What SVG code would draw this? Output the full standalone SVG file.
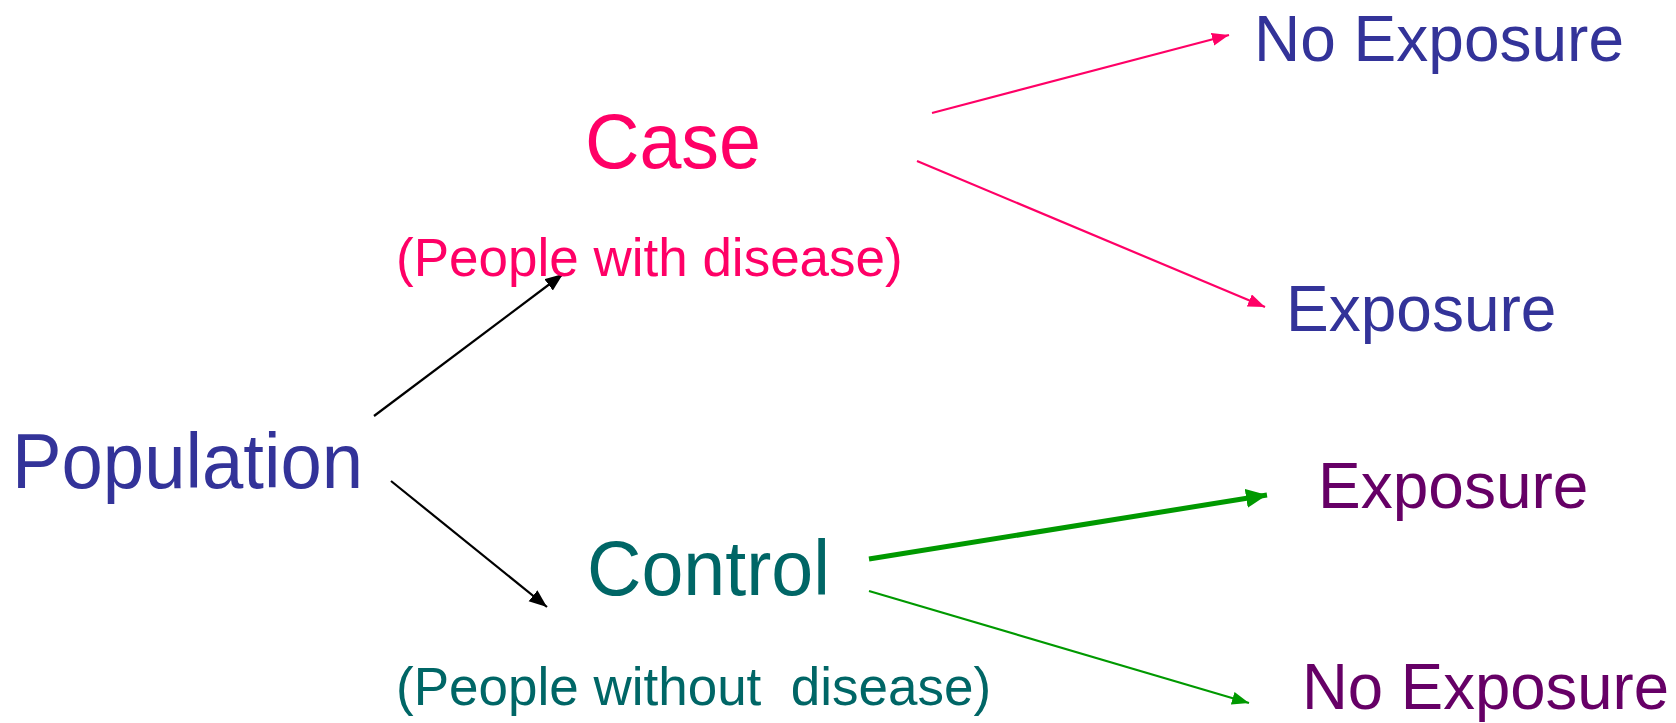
<svg xmlns="http://www.w3.org/2000/svg" width="1676" height="723" viewBox="0 0 1676 723">
  <style>
    text { font-family: "Liberation Sans", Arial, sans-serif; }
    .big { font-size: 77px; }
    .sub { font-size: 53px; }
    .out { font-size: 64px; }
    .blue { fill: #333399; }
    .pink { fill: #FF0066; }
    .teal { fill: #006666; }
    .purple { fill: #660066; }
    .conn { fill: none; stroke-linecap: butt; }
    .k { stroke: #000000; stroke-width: 2.2; }
    .p { stroke: #FF0066; stroke-width: 2.2; }
    .g { stroke: #009900; stroke-width: 2.2; }
    .gt { stroke: #009900; stroke-width: 5; }
  </style>
  <defs>
    <marker id="ah-black" markerUnits="userSpaceOnUse" markerWidth="19" markerHeight="15" refX="18" refY="7" orient="auto">
      <path d="M0,0 L18,7 L0,14 z" fill="#000000"/>
    </marker>
    <marker id="ah-pink" markerUnits="userSpaceOnUse" markerWidth="18" markerHeight="14" refX="17" refY="6.5" orient="auto">
      <path d="M0,0 L17,6.5 L0,13 z" fill="#FF0066"/>
    </marker>
    <marker id="ah-green" markerUnits="userSpaceOnUse" markerWidth="18" markerHeight="14" refX="17" refY="6.5" orient="auto">
      <path d="M0,0 L17,6.5 L0,13 z" fill="#009900"/>
    </marker>
    <marker id="ah-green-lg" markerUnits="userSpaceOnUse" markerWidth="22" markerHeight="20" refX="21" refY="9.5" orient="auto">
      <path d="M0,0 L21,9.5 L0,19 z" fill="#009900"/>
    </marker>
  </defs>

  <!-- connectors -->
  <g id="connectors">
    <line class="conn k" x1="374" y1="416" x2="563" y2="274" marker-end="url(#ah-black)"/>
    <line class="conn k" x1="391" y1="481" x2="547" y2="607" marker-end="url(#ah-black)"/>
    <line class="conn p" x1="932" y1="113" x2="1229" y2="35" marker-end="url(#ah-pink)"/>
    <line class="conn p" x1="917" y1="161" x2="1265" y2="307" marker-end="url(#ah-pink)"/>
    <line class="conn gt" x1="869" y1="559" x2="1267" y2="495" marker-end="url(#ah-green-lg)"/>
    <line class="conn g" x1="869" y1="591" x2="1249" y2="703" marker-end="url(#ah-green)"/>
  </g>

  <!-- nodes -->
  <g id="population">
    <text class="big blue" x="12" y="488" textLength="351" lengthAdjust="spacingAndGlyphs">Population</text>
  </g>
  <g id="case">
    <text class="big pink" x="585" y="168" textLength="176" lengthAdjust="spacingAndGlyphs">Case</text>
    <text class="sub pink" x="396" y="276">(People with disease)</text>
  </g>
  <g id="control">
    <text class="big teal" x="587" y="595" textLength="243" lengthAdjust="spacingAndGlyphs">Control</text>
    <text class="sub teal" x="396" y="705" xml:space="preserve">(People without  disease)</text>
  </g>
  <g id="case-no-exposure">
    <text class="out blue" x="1254" y="61">No Exposure</text>
  </g>
  <g id="case-exposure">
    <text class="out blue" x="1286" y="331">Exposure</text>
  </g>
  <g id="control-exposure">
    <text class="out purple" x="1318" y="508">Exposure</text>
  </g>
  <g id="control-no-exposure">
    <text class="out purple" x="1302" y="709" textLength="367" lengthAdjust="spacingAndGlyphs">No Exposure</text>
  </g>
</svg>
